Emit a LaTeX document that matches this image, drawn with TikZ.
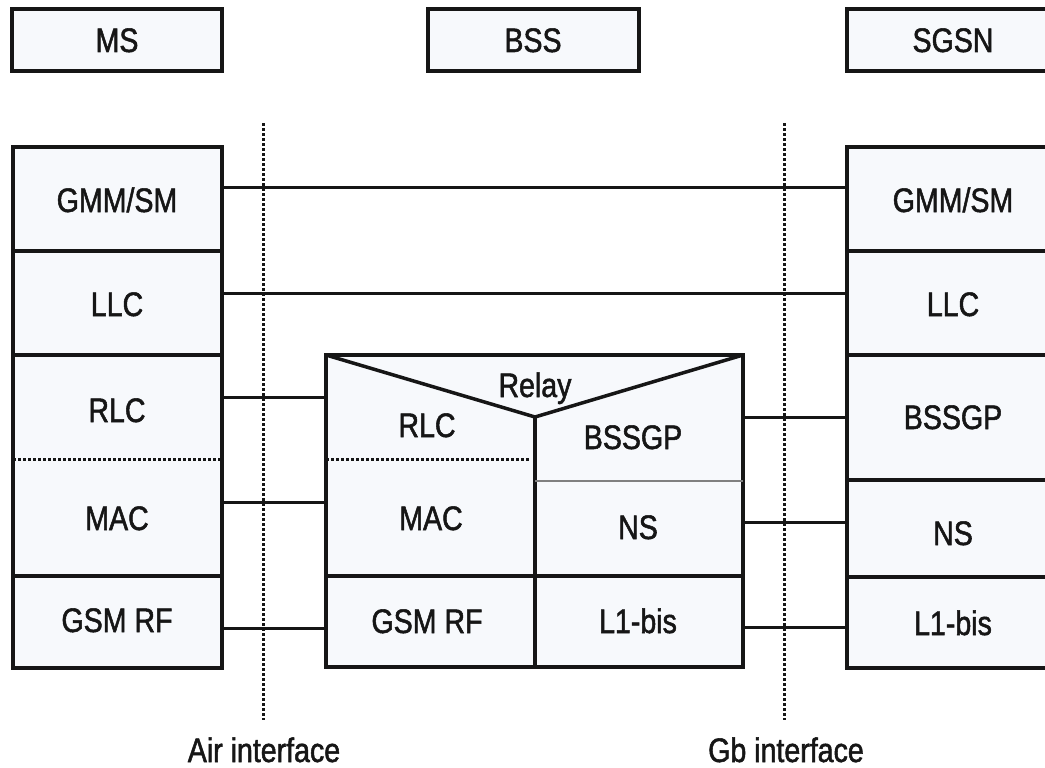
\documentclass[tikz,border=0pt]{standalone}
\usepackage{fontspec}
\setmainfont{Liberation Sans}[FakeStretch=0.84, FakeBold=1.5]
\usetikzlibrary{fit}
\definecolor{boxfill}{RGB}{247,249,252}
\definecolor{ink}{RGB}{22,22,22}
\newcommand\labfont{\fontsize{34}{40}\selectfont}
\begin{document}
\begin{tikzpicture}[x=1pt,y=-1pt,
  cell/.style={draw=ink, line width=3.5pt, fill=boxfill, inner sep=0pt, outer sep=0pt},
  lbl/.style={font=\labfont, text=ink, inner sep=0pt, text height=24pt, text depth=0pt},
  link/.style={draw=ink, line width=3pt},
  dotline/.style={draw=ink, line width=3pt, dash pattern=on 2.5pt off 2.5pt},
  thinline/.style={draw=gray, line width=2pt}]
\useasboundingbox (0,0) rectangle (1045,768);
\clip (0,0) rectangle (1045,768);
\fill[white] (0,0) rectangle (1045,768);

% top boxes
\node[cell, fit={(12,9) (222,71)}] (ms) {};
\node[cell, fit={(428,9) (639,71)}] (bss) {};
\node[cell, fit={(847,9) (1059,71)}] (sgsn) {};
\node[lbl] (mst) at (117,40) {MS};
\node[lbl] (bsst) at (533,40) {BSS};
\node[lbl] (sgsnt) at (953,40) {SGSN};

% left stack (MS)
\node[cell, fit={(13,147) (222,251)}] (lgmm) {};
\node[cell, fit={(13,251) (222,355)}] (lllc) {};
\node[cell, fit={(13,355) (222,576)}] (lrm) {};
\node[cell, fit={(13,576) (222,668)}] (lrf) {};
\node[lbl] (lgmmt) at (117,200) {GMM/SM};
\node[lbl] (lllct) at (117,304) {LLC};
\node[lbl] (lrlc) at (117,410) {RLC};
\node[lbl] (lmac) at (117,518) {MAC};
\node[lbl] (lrft) at (117,620) {GSM RF};
\draw[dotline] (lrm.west |- 0,459) -- (lrm.east |- 0,459);

% right stack (SGSN)
\node[cell, fit={(847,147) (1059,251)}] (rgmm) {};
\node[cell, fit={(847,251) (1059,355)}] (rllc) {};
\node[cell, fit={(847,355) (1059,480)}] (rbssgp) {};
\node[cell, fit={(847,480) (1059,577)}] (rns) {};
\node[cell, fit={(847,577) (1059,668)}] (rl1) {};
\node[lbl] (rgmmt) at (953,200) {GMM/SM};
\node[lbl] (rllct) at (953,304) {LLC};
\node[lbl] (rbssgpt) at (953,417) {BSSGP};
\node[lbl] (rnst) at (953,533) {NS};
\node[lbl] (rl1t) at (953,623) {L1-bis};

% middle (BSS)
\node[cell, fit={(326,355) (743,667)}] (mid) {};
\coordinate (apex) at (535,417);
\draw[ink, line width=3.5pt, line join=miter] (mid.north west) -- (apex) -- (mid.north east);
\draw[ink, line width=3.5pt] (apex) -- (apex |- mid.south);
\draw[ink, line width=3.5pt] (mid.west |- 0,576) -- (mid.east |- 0,576);
\draw[dotline] (mid.west |- 0,459) -- (530,459);
\draw[thinline] (apex |- 0,481) -- (mid.east |- 0,481);
\node[lbl] (relay) at (535,385) {Relay};
\node[lbl] (mrlc) at (427,425) {RLC};
\node[lbl] (mbssgp) at (633,437) {BSSGP};
\node[lbl] (mmac) at (431,518) {MAC};
\node[lbl] (mns) at (638,527) {NS};
\node[lbl] (mrf) at (427,621) {GSM RF};
\node[lbl] (ml1) at (638,621) {L1-bis};

% peer connectors
\draw[link] (lgmm.east |- 0,187) -- (rgmm.west |- 0,187);
\draw[link] (lllc.east |- 0,293) -- (rllc.west |- 0,293);
\draw[link] (lrm.east |- 0,397) -- (mid.west |- 0,397);
\draw[link] (lrm.east |- 0,502) -- (mid.west |- 0,502);
\draw[link] (lrf.east |- 0,628) -- (mid.west |- 0,628);
\draw[link] (mid.east |- 0,417) -- (rbssgp.west |- 0,417);
\draw[link] (mid.east |- 0,522) -- (rns.west |- 0,522);
\draw[link] (mid.east |- 0,627) -- (rl1.west |- 0,627);

% interfaces
\node[lbl] (air) at (264,750) {Air interface};
\node[lbl] (gb) at (786,750) {Gb interface};
\coordinate (airtop) at (263,123);
\coordinate (gbtop) at (784,123);
\draw[dotline] (airtop) -- (airtop |- 0,720);
\draw[dotline] (gbtop) -- (gbtop |- 0,720);
\end{tikzpicture}
\end{document}
